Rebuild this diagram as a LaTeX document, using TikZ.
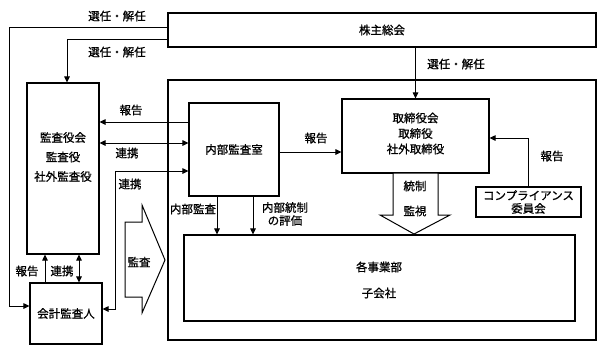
\documentclass[tikz,border=0pt]{standalone}
\usepackage{fontspec}
\setmainfont{Noto Sans CJK JP}[FakeBold=0.9]
\usetikzlibrary{arrows.meta}
\begin{document}
\begin{tikzpicture}[x=1pt,y=-1pt,
  box/.style={draw,line width=1.1pt,inner sep=0pt,font=\fontsize{11.5}{13}\selectfont,align=center},
  lbl/.style={inner sep=0pt,font=\fontsize{11.5}{13}\selectfont,align=center},
  arr/.style={line width=1pt,-{Triangle[length=6pt,width=5.5pt]}},
  darr/.style={line width=1pt,{Triangle[length=6pt,width=5.5pt]}-{Triangle[length=6pt,width=5.5pt]}},
  plain/.style={line width=1pt},
  blockarrow/.style={draw,fill=white,line width=1pt,line join=miter}
]
\useasboundingbox (0,0) rectangle (609,354);
\fill[white] (0,0) rectangle (609,354);

% boxes
\node[box,minimum width=428pt,minimum height=34pt] (gm) at (382,30) {株主総会};
\node[box,minimum width=428pt,minimum height=260pt] (co) at (382,210) {};
\node[box,minimum width=72pt,minimum height=171pt] (kansa) at (63,168.5) {};
\node[lbl,font=\fontsize{11.5}{19.5}\selectfont] (kansaT) at (63,157) {監査役会\\監査役\\社外監査役};
\node[box,minimum width=72pt,minimum height=61pt] (kaikei) at (66,313.5) {会計監査人};
\node[box,minimum width=90pt,minimum height=93pt] (naibu) at (234,149.5) {内部監査室};
\node[box,minimum width=147pt,minimum height=74pt] (tori) at (415.5,136) {};
\node[lbl,font=\fontsize{11.5}{15.5}\selectfont] (toriT) at (415.5,133.5) {取締役会\\取締役\\社外取締役};
\node[box,minimum width=105pt,minimum height=30pt] (comp) at (528.5,202) {コンプライアンス\\委員会};
\node[box,minimum width=391pt,minimum height=86pt] (jigyo) at (379.5,278) {};
\node[lbl,font=\fontsize{11.5}{26}\selectfont] (jigyoT) at (379,280) {各事業部\\子会社};

% helper coordinates
\coordinate (lx) at (9,0);
\coordinate (ka1) at ([yshift=7.5pt]kaikei.west);

% shareholders connectors
\draw[arr] ([yshift=3pt]gm.west) -| (lx |- ka1) -- (ka1);
\draw[arr] ([yshift=-9pt]gm.west) -| ([xshift=4pt]kansa.north);
\draw[arr] (gm.south -| tori.north) -- (tori.north);
\node[lbl] (l1) at (117,16) {選任・解任};
\node[lbl] (l2) at (117,52) {選任・解任};
\node[lbl] (l3) at (456,64) {選任・解任};

% kansa <-> naibu
\draw[arr] (naibu.west |- 0,122) -- (kansa.east |- 0,122);
\node[lbl] (l4) at (131,110) {報告};
\draw[darr] (kansa.east |- 0,143) -- (naibu.west |- 0,143);
\node[lbl] (l5) at (127,153) {連携};
\draw[darr] (kaikei.east |- 0,309) -| (115,171) -- (naibu.west |- 0,171);
\node[lbl] (l6) at (130,184) {連携};

% kaikei <-> kansa
\draw[arr] (kaikei.north -| 45,0) -- (kansa.south -| 45,0);
\node[lbl] (l7) at (27,271) {報告};
\draw[darr] (kaikei.north -| 79,0) -- (kansa.south -| 79,0);
\node[lbl] (l8) at (62,271) {連携};

% naibu -> tori
\draw[arr] (naibu.east |- 0,152) -- (tori.west |- 0,152);
\node[lbl] (l9) at (316,138) {報告};

% comp -> tori
\draw[arr] (comp.north) |- (tori.east |- 0,138);
\node[lbl] (l10) at (552,156) {報告};

% naibu -> jigyo
\draw[arr] (naibu.south -| 217,0) -- (jigyo.north -| 217,0);
\draw[arr] (naibu.south -| 253,0) -- (jigyo.north -| 253,0);
\node[lbl] (l11) at (193,209) {内部監査};
\node[lbl,font=\fontsize{11.5}{13}\selectfont] (l12) at (285,214) {内部統制\\の評価};

% block arrow: 監査
\draw[blockarrow] (125,222) -- (142,222) -- (142,205) -- (165,260) -- (142,313) -- (142,297) -- (125,297) -- cycle;
\node[lbl] (l13) at (139,262) {監査};

% block arrow: 統制・監視
\draw[blockarrow] (393,173) -- (438,173) -- (438,215) -- (450,215) -- (414,234) -- (380,215) -- (393,215) -- cycle;
\node[lbl] (l14) at (415,186) {統制};
\node[lbl] (l15) at (415,211) {監視};
\end{tikzpicture}
\end{document}
